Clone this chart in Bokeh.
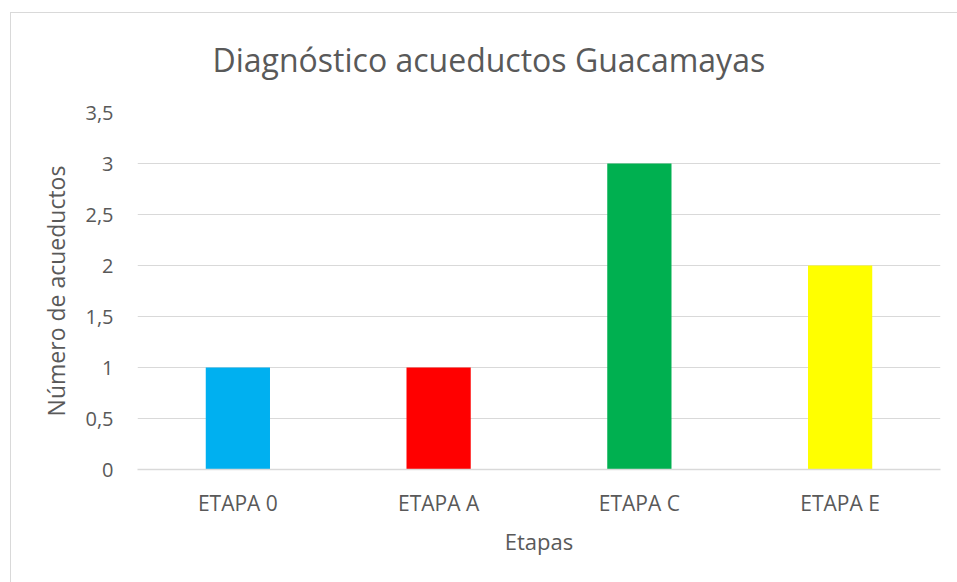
from bokeh.plotting import figure
from bokeh.models import (Range1d, FactorRange, FixedTicker, CustomJSTickFormatter,
                          ColumnDataSource)
from bokeh.embed import file_html
from bokeh.resources import INLINE

# Data
categories = ["ETAPA 0", "ETAPA A", "ETAPA C", "ETAPA E"]
values = [1, 1, 3, 2]
colors = ["#00B0F0", "#FF0000", "#00B050", "#FFFF00"]
y_ticks = [0, 0.5, 1, 1.5, 2, 2.5, 3, 3.5]

title_text = "Diagnóstico acueductos Guacamayas"
x_label = "Etapas"
y_label = "Número de acueductos"

FONT = "Open Sans"
TXT = "#595959"
GRID = "#d9d9d9"

src = ColumnDataSource(dict(cat=categories, val=values, color=colors))

p = figure(width=947, height=582, output_backend="svg", toolbar_location=None,
           x_range=FactorRange(*categories, range_padding=0),
           y_range=Range1d(0, 3.5),
           min_border_left=127, min_border_right=17,
           min_border_top=112, min_border_bottom=113)
p.margin = (0, 0, 0, 10)
line = "linear-gradient(#d9d9d9, #d9d9d9)"
p.styles = {"background": f"{line} 0 12px / 100% 1px no-repeat, {line} 0 12px / 1px 100% no-repeat"}
p.outline_line_color = None
p.background_fill_color = "white"
p.border_fill_color = None

p.title.text = title_text
p.title.align = "left"
p.title.offset = 75
p.title.text_font = FONT
p.title.text_font_size = "32px"
p.title.text_font_style = "normal"
p.title.text_color = TXT
p.title.standoff = 63

p.vbar(x="cat", top="val", width=0.32, color="color", source=src, line_color=None)

# axes
p.yaxis.ticker = FixedTicker(ticks=y_ticks)
p.yaxis.formatter = CustomJSTickFormatter(code="return tick.toString().replace('.', ',');")
p.yaxis.axis_line_color = None
p.yaxis.major_tick_line_color = None
p.yaxis.minor_tick_line_color = None
p.yaxis.major_label_standoff = 18
p.yaxis.major_label_text_font = FONT
p.yaxis.major_label_text_font_size = "20px"
p.yaxis.major_label_text_color = TXT
p.yaxis.axis_label = y_label
p.yaxis.axis_label_standoff = 10
p.yaxis.axis_label_text_font = FONT
p.yaxis.axis_label_text_font_size = "23px"
p.yaxis.axis_label_text_font_style = "normal"
p.yaxis.axis_label_text_color = TXT

p.xaxis.axis_line_color = GRID
p.xaxis.axis_line_width = 1.5
p.xaxis.major_tick_line_color = None
p.xaxis.minor_tick_line_color = None
p.xaxis.major_label_standoff = 13
p.xaxis.major_label_text_font = FONT
p.xaxis.major_label_text_font_size = "21px"
p.xaxis.major_label_text_color = TXT
p.xaxis.axis_label = x_label
p.xaxis.axis_label_standoff = 6
p.xaxis.axis_label_text_font = FONT
p.xaxis.axis_label_text_font_size = "22px"
p.xaxis.axis_label_text_font_style = "normal"
p.xaxis.axis_label_text_color = TXT

p.xgrid.grid_line_color = None
p.ygrid.grid_line_color = GRID
p.ygrid.grid_line_width = 1

open("out.html", "w").write(file_html(p, INLINE))
